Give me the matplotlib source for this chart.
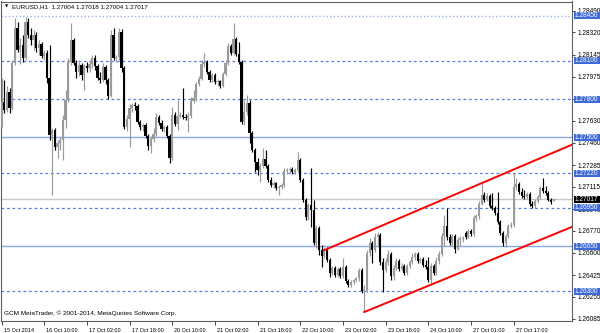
import matplotlib.pyplot as plt
import matplotlib.transforms as mtransforms
from matplotlib.patches import Rectangle
import numpy as np

plt.rcParams['font.family'] = ['Liberation Sans', 'DejaVu Sans']

# EURUSD H1 bars, 15 Oct 18:00 .. 28 Oct 07:00
opens = [
    1.27582, 1.27778, 1.27715, 1.27856, 1.27731, 1.28082, 1.28355, 1.28184, 1.28223, 1.28121,
    1.28402, 1.28301, 1.28262, 1.28301, 1.28199, 1.28230, 1.28137, 1.28160, 1.27965, 1.27520,
    1.27559, 1.27426, 1.27457, 1.27480, 1.27637, 1.27793, 1.28090, 1.28262, 1.28082, 1.28012,
    1.28067, 1.27989, 1.28059, 1.28043, 1.28074, 1.28121, 1.28059, 1.27965, 1.27949, 1.28051,
    1.27949, 1.27824, 1.28301, 1.28121, 1.28129, 1.28324, 1.28043, 1.27582, 1.27645, 1.27731,
    1.27754, 1.27746, 1.27621, 1.27582, 1.27598, 1.27512, 1.27434, 1.27488, 1.27527, 1.27660,
    1.27613, 1.27566, 1.27582, 1.27512, 1.27340, 1.27676, 1.27605, 1.27668, 1.27676, 1.27660,
    1.27652, 1.27668, 1.27785, 1.27809, 1.27918, 1.27957, 1.28074, 1.28090, 1.28012, 1.27949,
    1.27989, 1.27934, 1.27942, 1.27903, 1.27996, 1.28082, 1.28215, 1.28160, 1.28269, 1.28152,
    1.28090, 1.27621, 1.27699, 1.27770, 1.27535, 1.27402, 1.27309, 1.27246, 1.27278, 1.27332,
    1.27278, 1.27168, 1.27129, 1.27145, 1.27106, 1.27114, 1.27129, 1.27239, 1.27246, 1.27254,
    1.27231, 1.27246, 1.27324, 1.27168, 1.27012, 1.26879, 1.26973, 1.26934, 1.26676, 1.26793,
    1.26622, 1.26575, 1.26629, 1.26543, 1.26442, 1.26481, 1.26426, 1.26473, 1.26418, 1.26489,
    1.26379, 1.26348, 1.26372, 1.26387, 1.26403, 1.26465, 1.26301, 1.26309, 1.26598, 1.26676,
    1.26622, 1.26723, 1.26739, 1.26528, 1.26465, 1.26528, 1.26590, 1.26418, 1.26481, 1.26536,
    1.26473, 1.26497, 1.26442, 1.26497, 1.26528, 1.26567, 1.26590, 1.26536, 1.26551, 1.26504,
    1.26489, 1.26387, 1.26497, 1.26442, 1.26536, 1.26590, 1.26731, 1.26809, 1.26723, 1.26676,
    1.26731, 1.26629, 1.26700, 1.26707, 1.26754, 1.26723, 1.26770, 1.26747, 1.26871, 1.26887,
    1.26981, 1.27051, 1.27012, 1.27043, 1.26965, 1.26950, 1.26910, 1.26840, 1.26754, 1.26676,
    1.26731, 1.26809, 1.26817, 1.27114, 1.27137, 1.27075, 1.27043, 1.27035, 1.27059, 1.26981,
    1.26965, 1.27004, 1.27035, 1.27106, 1.27082, 1.27067, 1.27012, 1.27004,
]
highs = [
    1.27965, 1.27949, 1.27903, 1.27887, 1.28105, 1.28433, 1.28402, 1.28277, 1.28301, 1.28441,
    1.28433, 1.28355, 1.28340, 1.28324, 1.28262, 1.28246, 1.28184, 1.28184, 1.28223, 1.27574,
    1.27574, 1.27480, 1.27504, 1.27676, 1.27871, 1.28121, 1.28394, 1.28277, 1.28105, 1.28090,
    1.28082, 1.28074, 1.28090, 1.28105, 1.28145, 1.28145, 1.28074, 1.28012, 1.28082, 1.28067,
    1.27965, 1.28340, 1.28355, 1.28145, 1.28355, 1.28348, 1.28059, 1.27676, 1.27762, 1.27770,
    1.27778, 1.27762, 1.27637, 1.27613, 1.27613, 1.27527, 1.27512, 1.27574, 1.27691, 1.27676,
    1.27637, 1.27598, 1.27598, 1.27527, 1.27738, 1.27699, 1.27793, 1.27699, 1.27887, 1.27684,
    1.27699, 1.27816, 1.27871, 1.27934, 1.27981, 1.28105, 1.28160, 1.28105, 1.28027, 1.28004,
    1.28004, 1.27957, 1.27949, 1.28012, 1.28105, 1.28238, 1.28230, 1.28394, 1.28285, 1.28246,
    1.28105, 1.27793, 1.27832, 1.27793, 1.27551, 1.27418, 1.27340, 1.27301, 1.27418, 1.27402,
    1.27293, 1.27192, 1.27160, 1.27153, 1.27129, 1.27145, 1.27262, 1.27262, 1.27270, 1.27270,
    1.27262, 1.27387, 1.27340, 1.27184, 1.27028, 1.26989, 1.27262, 1.27012, 1.26817, 1.26809,
    1.26661, 1.26645, 1.26645, 1.26559, 1.26497, 1.26497, 1.26489, 1.26489, 1.26559, 1.26504,
    1.26395, 1.26387, 1.26395, 1.26411, 1.26481, 1.26481, 1.26348, 1.26622, 1.26715, 1.26692,
    1.26754, 1.26762, 1.26754, 1.26559, 1.26559, 1.26622, 1.26606, 1.26504, 1.26559, 1.26551,
    1.26520, 1.26512, 1.26512, 1.26543, 1.26598, 1.26606, 1.26606, 1.26567, 1.26567, 1.26543,
    1.26567, 1.26520, 1.26512, 1.26567, 1.26614, 1.26754, 1.26895, 1.26950, 1.26747, 1.26747,
    1.26747, 1.26723, 1.26731, 1.26731, 1.26770, 1.26786, 1.26786, 1.26895, 1.26903, 1.27004,
    1.27145, 1.27075, 1.27067, 1.27059, 1.27067, 1.26965, 1.27075, 1.26856, 1.26770, 1.26747,
    1.26825, 1.26840, 1.27223, 1.27184, 1.27153, 1.27106, 1.27090, 1.27075, 1.27075, 1.27004,
    1.27020, 1.27051, 1.27121, 1.27184, 1.27121, 1.27082, 1.27028, 1.27018,
]
lows = [
    1.27582, 1.27691, 1.27699, 1.27691, 1.27715, 1.28067, 1.28168, 1.28074, 1.28090, 1.28105,
    1.28277, 1.28223, 1.28184, 1.28168, 1.28145, 1.28121, 1.28105, 1.27926, 1.27480, 1.27051,
    1.27402, 1.27340, 1.27402, 1.27324, 1.27574, 1.27778, 1.28067, 1.28067, 1.27965, 1.27981,
    1.27949, 1.27871, 1.28012, 1.28012, 1.28043, 1.28027, 1.27949, 1.27926, 1.27934, 1.27918,
    1.27801, 1.27816, 1.28105, 1.28090, 1.28105, 1.28012, 1.27566, 1.27551, 1.27426, 1.27699,
    1.27715, 1.27605, 1.27559, 1.27551, 1.27496, 1.27402, 1.27379, 1.27465, 1.27512, 1.27598,
    1.27551, 1.27543, 1.27496, 1.27301, 1.27324, 1.27590, 1.27559, 1.27652, 1.27645, 1.27637,
    1.27543, 1.27652, 1.27770, 1.27785, 1.27903, 1.27949, 1.28051, 1.27996, 1.27934, 1.27934,
    1.27918, 1.27903, 1.27887, 1.27895, 1.27981, 1.28067, 1.28145, 1.28145, 1.28137, 1.28074,
    1.27605, 1.27598, 1.27676, 1.27457, 1.27387, 1.27231, 1.27207, 1.27153, 1.27262, 1.27262,
    1.27153, 1.27114, 1.27106, 1.27090, 1.27051, 1.27098, 1.27114, 1.27215, 1.27223, 1.27215,
    1.27215, 1.27231, 1.27153, 1.26996, 1.26856, 1.26856, 1.26801, 1.26661, 1.26637, 1.26582,
    1.26489, 1.26559, 1.26528, 1.26411, 1.26426, 1.26411, 1.26411, 1.26403, 1.26403, 1.26364,
    1.26333, 1.26333, 1.26356, 1.26372, 1.26379, 1.26286, 1.26137, 1.26294, 1.26575, 1.26520,
    1.26606, 1.26645, 1.26504, 1.26294, 1.26450, 1.26504, 1.26387, 1.26387, 1.26465, 1.26458,
    1.26458, 1.26426, 1.26426, 1.26481, 1.26512, 1.26543, 1.26520, 1.26520, 1.26489, 1.26473,
    1.26372, 1.26348, 1.26426, 1.26426, 1.26512, 1.26575, 1.26653, 1.26700, 1.26661, 1.26653,
    1.26598, 1.26622, 1.26653, 1.26684, 1.26707, 1.26715, 1.26731, 1.26731, 1.26848, 1.26864,
    1.26973, 1.26996, 1.27004, 1.26950, 1.26934, 1.26895, 1.26825, 1.26739, 1.26653, 1.26645,
    1.26715, 1.26793, 1.26801, 1.27090, 1.27059, 1.27028, 1.27020, 1.27020, 1.26965, 1.26950,
    1.26950, 1.26989, 1.27020, 1.27067, 1.27051, 1.27004, 1.26981, 1.27004,
]
closes = [
    1.27778, 1.27715, 1.27856, 1.27731, 1.28082, 1.28355, 1.28184, 1.28223, 1.28121, 1.28402,
    1.28301, 1.28262, 1.28301, 1.28199, 1.28230, 1.28137, 1.28160, 1.27965, 1.27520, 1.27559,
    1.27426, 1.27457, 1.27480, 1.27637, 1.27793, 1.28090, 1.28262, 1.28082, 1.28012, 1.28067,
    1.27989, 1.28059, 1.28043, 1.28074, 1.28121, 1.28059, 1.27965, 1.27949, 1.28051, 1.27949,
    1.27824, 1.28301, 1.28121, 1.28129, 1.28324, 1.28043, 1.27582, 1.27645, 1.27731, 1.27754,
    1.27746, 1.27621, 1.27582, 1.27598, 1.27512, 1.27434, 1.27488, 1.27527, 1.27660, 1.27613,
    1.27566, 1.27582, 1.27512, 1.27340, 1.27676, 1.27605, 1.27668, 1.27676, 1.27660, 1.27652,
    1.27668, 1.27785, 1.27809, 1.27918, 1.27957, 1.28074, 1.28090, 1.28012, 1.27949, 1.27989,
    1.27934, 1.27942, 1.27903, 1.27996, 1.28082, 1.28215, 1.28160, 1.28269, 1.28152, 1.28090,
    1.27621, 1.27699, 1.27770, 1.27535, 1.27402, 1.27309, 1.27246, 1.27278, 1.27332, 1.27278,
    1.27168, 1.27129, 1.27145, 1.27106, 1.27114, 1.27129, 1.27239, 1.27246, 1.27254, 1.27231,
    1.27246, 1.27324, 1.27168, 1.27012, 1.26879, 1.26973, 1.26934, 1.26676, 1.26793, 1.26622,
    1.26575, 1.26629, 1.26543, 1.26442, 1.26481, 1.26426, 1.26473, 1.26418, 1.26489, 1.26379,
    1.26348, 1.26372, 1.26387, 1.26403, 1.26465, 1.26301, 1.26309, 1.26598, 1.26676, 1.26622,
    1.26723, 1.26739, 1.26528, 1.26465, 1.26528, 1.26590, 1.26418, 1.26481, 1.26536, 1.26473,
    1.26497, 1.26442, 1.26497, 1.26528, 1.26567, 1.26590, 1.26536, 1.26551, 1.26504, 1.26489,
    1.26387, 1.26497, 1.26442, 1.26536, 1.26590, 1.26731, 1.26809, 1.26723, 1.26676, 1.26731,
    1.26629, 1.26700, 1.26707, 1.26715, 1.26723, 1.26770, 1.26747, 1.26871, 1.26887, 1.26981,
    1.27051, 1.27012, 1.27043, 1.26965, 1.26950, 1.26910, 1.26840, 1.26754, 1.26676, 1.26731,
    1.26809, 1.26817, 1.27114, 1.27137, 1.27075, 1.27043, 1.27035, 1.27059, 1.26981, 1.26965,
    1.27004, 1.27035, 1.27106, 1.27082, 1.27067, 1.27012, 1.26996, 1.27017,
]

date_bars = [0, 16, 32, 48, 64, 80, 96, 112, 128, 144, 160, 176, 192]
date_labels = ["15 Oct 2014", "16 Oct 10:00", "17 Oct 02:00", "17 Oct 18:00",
               "20 Oct 10:00", "21 Oct 02:00", "21 Oct 18:00", "22 Oct 10:00",
               "23 Oct 02:00", "23 Oct 18:00", "24 Oct 10:00", "27 Oct 01:00",
               "27 Oct 17:00"]
price_ticks = [1.28490, 1.28320, 1.28145, 1.27975, 1.27800, 1.27630, 1.27460, 1.27285,
               1.27115, 1.26940, 1.26770, 1.26600, 1.26425, 1.26255, 1.26085]

# horizontal levels drawn by hand on the chart
levels = [1.28450, 1.28100, 1.27800, 1.27500, 1.27220, 1.26950, 1.26650, 1.26300]
level_kind = ["dot", "dash", "dash", "solid", "dash", "dash", "solid", "dash"]

# channel trendlines: (bar, price) anchors
upper_line = ([121, 214], [1.26620, 1.27445])
lower_line = ([136, 214], [1.26137, 1.26803])

W, H = 600, 333
fig = plt.figure(figsize=(W / 100, H / 100), dpi=100)
ax = fig.add_axes([1 / W, 1 - 321 / H, 571 / W, 319.5 / H])
ax.set_xlim(-0.2, 213.9)
ax.set_ylim(1.26067, 1.28562)

# candles
o = np.array(opens)
c = np.array(closes)
idx = np.arange(len(c))
cols = np.where(c >= o, "#9a9a9a", "#000000")
ax.vlines(idx, lows, highs, colors=cols, lw=0.85, zorder=3)
body_lo = np.minimum(o, c)
body_h = np.maximum(np.abs(c - o), 0.00005)
ax.bar(idx, body_h, bottom=body_lo, width=0.8, color=cols, lw=0, zorder=3)

# bid line
ax.axhline(closes[-1], color="#c8c8c8", lw=1.0, zorder=1)

styles = {
    "dot": dict(color="#9db3f2", lw=1.0, ls=(0, (1, 1.6))),
    "dash": dict(color="#5a7de0", lw=0.9, ls=(0, (2.2, 2.2))),
    "solid": dict(color="#86a6f2", lw=1.0, ls="-"),
}
for lv, kind in zip(levels, level_kind):
    ax.axhline(lv, zorder=2, **styles[kind])

ax.plot(*upper_line, color="#ff0000", lw=1.4, zorder=4)
ax.plot(*lower_line, color="#ff0000", lw=1.4, zorder=4)

# axes look
for sp in ax.spines.values():
    sp.set_color("#606060")
    sp.set_linewidth(0.8)
ax.yaxis.tick_right()
ax.set_yticks(price_ticks)
ax.set_yticklabels([f"{v:.5f}" for v in price_ticks])
ax.tick_params(axis="y", length=2.5, width=0.7, pad=1.5, labelsize=4.7, color="#404040")
ax.set_xticks(date_bars)
ax.set_xticklabels(date_labels, ha="left")
ax.tick_params(axis="x", length=3, width=0.7, pad=1.8, labelsize=4.0, color="#404040")
shift = mtransforms.ScaledTranslation(2 / 100, 0, fig.dpi_scale_trans)
for lab in ax.get_xticklabels():
    lab.set_transform(lab.get_transform() + shift)

# price boxes on the right scale: from the frame to the image edge, 7 px tall
trans = mtransforms.blended_transform_factory(ax.transAxes, ax.transData)
px = 1 / 571.0
box_h = 7 * (1.28562 - 1.26067) / 319.5
txt_trans = trans + mtransforms.ScaledTranslation(3 / 100, 0, fig.dpi_scale_trans)
box_items = [(lv, "#3d6ad6") for lv in levels] + [(closes[-1], "#000000")]
for lv, fc in box_items:
    ax.add_patch(Rectangle((1 + 1.5 * px, lv - box_h / 2), 27.5 * px, box_h, transform=trans,
                           fc=fc, ec="none", clip_on=False, zorder=10))
    ax.text(1.0, lv, f"{lv:.5f}", transform=txt_trans, ha="left", va="center",
            fontsize=4.7, color="white", clip_on=False, zorder=11)

# header and footer text
fig.text(5 / W, 1 - 7 / H, "\u25BC", fontsize=3, va="center", family="DejaVu Sans")
fig.text(12 / W, 1 - 7 / H,
         f"EURUSD,H1  {opens[-1]:.5f} {highs[-1]:.5f} {lows[-1]:.5f} {closes[-1]:.5f}",
         fontsize=4.5, va="center")
ax.text(3 / 571, 8 / 319.5, "GCM MetaTrader, \u00A9 2001-2014, MetaQuotes Software Corp.",
        transform=ax.transAxes, fontsize=4.6, va="center")

fig.savefig("out.png", dpi=100, facecolor="white")
